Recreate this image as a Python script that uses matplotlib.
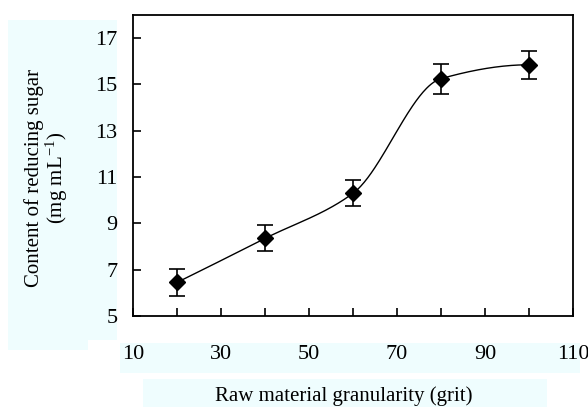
import numpy as np
import matplotlib
matplotlib.use('Agg')
import matplotlib.pyplot as plt
from matplotlib.patches import Rectangle

plt.rcParams['font.family'] = ['Liberation Serif', 'DejaVu Serif']
plt.rcParams['mathtext.default'] = 'regular'

# data
granularity = [20, 40, 60, 80, 100]
sugar = [6.45, 8.35, 10.3, 15.25, 15.85]
sugar_err = [0.6, 0.56, 0.57, 0.65, 0.6]
xtick_labels = [10, 30, 50, 70, 90, 110]
ytick_labels = [5, 7, 9, 11, 13, 15, 17]


def pchip(x, y, xs):
    # monotone cubic through the measured points
    x = np.asarray(x, float)
    y = np.asarray(y, float)
    h = np.diff(x)
    d = np.diff(y) / h
    n = len(x)
    m = np.zeros(n)
    for k in range(1, n - 1):
        if d[k - 1] * d[k] > 0:
            w1 = 2 * h[k] + h[k - 1]
            w2 = h[k] + 2 * h[k - 1]
            m[k] = (w1 + w2) / (w1 / d[k - 1] + w2 / d[k])
    for k0, a, b, ha, hb in [(0, d[0], d[1], h[0], h[1]), (n - 1, d[-1], d[-2], h[-1], h[-2])]:
        e = ((2 * ha + hb) * a - ha * b) / (ha + hb)
        if np.sign(e) != np.sign(a):
            e = 0.0
        elif np.sign(a) != np.sign(b) and abs(e) > abs(3 * a):
            e = 3 * a
        m[k0] = e
    idx = np.clip(np.searchsorted(x, xs) - 1, 0, n - 2)
    t = (xs - x[idx]) / h[idx]
    h00 = 2 * t**3 - 3 * t**2 + 1
    h10 = t**3 - 2 * t**2 + t
    h01 = -2 * t**3 + 3 * t**2
    h11 = t**3 - t**2
    return h00 * y[idx] + h10 * h[idx] * m[idx] + h01 * y[idx + 1] + h11 * h[idx] * m[idx + 1]


W, H = 588, 407
fig = plt.figure(figsize=(W / 100, H / 100), dpi=100)
ax = fig.add_axes([133 / W, 1 - 316 / H, 440 / W, 301 / H])

# pale cyan boxes behind the labels (pixel coords from top-left)
box_color = '#effdfe'
for (x0, y0, x1, y1) in [(8, 20, 88, 350), (88, 20, 117, 340),
                         (120, 343, 580, 373), (143, 379, 547, 407)]:
    fig.patches.append(Rectangle((x0 / W, 1 - y1 / H), (x1 - x0) / W, (y1 - y0) / H,
                                 transform=fig.transFigure, facecolor=box_color,
                                 edgecolor='none', zorder=-1))

xs = np.linspace(granularity[0], granularity[-1], 300)
ax.plot(xs, pchip(granularity, sugar, xs), color='black', lw=1.0, zorder=2)
ax.errorbar(granularity, sugar, yerr=sugar_err, fmt='D', color='black', ms=8,
            ecolor='black', elinewidth=1.2, capsize=6, capthick=1.2, zorder=3)

ax.set_xlim(10, 110)
ax.set_ylim(5, 18)
ax.set_xticks(np.arange(10, 111, 10))
ax.set_xticklabels([str(v) if v in xtick_labels else '' for v in range(10, 111, 10)])
ax.set_yticks(ytick_labels)
ax.set_yticklabels([str(v) for v in ytick_labels])
ax.tick_params(axis='x', direction='in', length=6, width=1.2, pad=21, labelsize=16)
ax.tick_params(axis='y', direction='in', length=6, width=1.2, pad=11, labelsize=16)
ax.tick_params(top=False, right=False)
for s in ax.spines.values():
    s.set_linewidth(1.3)

fig.text(344 / W, 1 - 396 / H, 'Raw material granularity (grit)', ha='center', va='center',
         fontsize=15)
fig.text(47 / W, 1 - 178 / H, 'Content of reducing sugar\n(mg mL$^{-1}$)', ha='center',
         va='center', rotation=90, fontsize=15, multialignment='center', linespacing=1.0)

fig.savefig('out.png', dpi=100)
